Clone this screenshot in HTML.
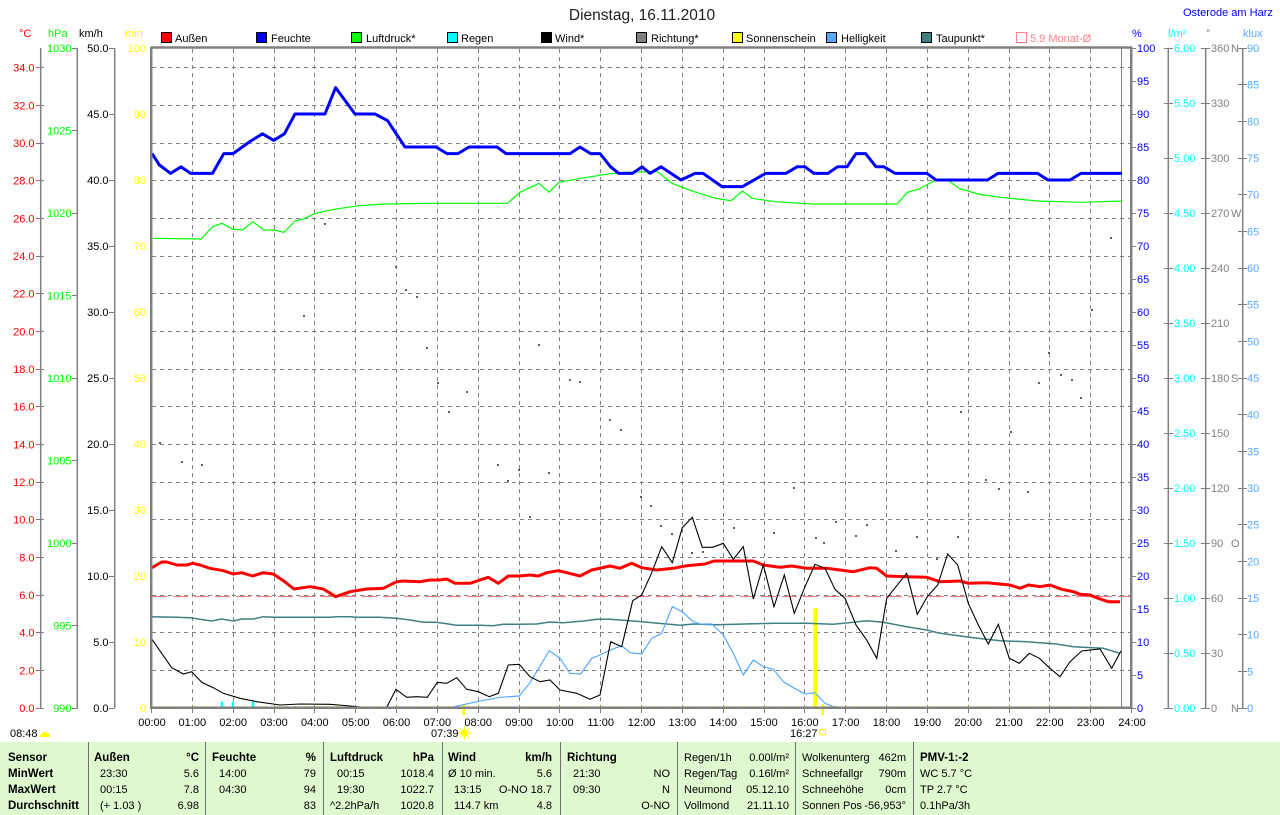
<!DOCTYPE html>
<html><head><meta charset="utf-8"><style>
html,body{margin:0;padding:0;background:#fff;}
svg{display:block;font-family:"Liberation Sans",Arial,sans-serif;}
</style></head><body>
<svg width="1280" height="815" viewBox="0 0 1280 815" xmlns="http://www.w3.org/2000/svg">
<rect x="0" y="0" width="1280" height="815" fill="#fff"/>

<!-- Title -->
<text x="642" y="20" font-size="15.5" text-anchor="middle" fill="#202020">Dienstag, 16.11.2010</text>
<text x="1183" y="16" font-size="11" fill="#0000ff">Osterode am Harz</text>

<!-- axis header labels -->
<g font-size="11">
<text x="19" y="37" fill="#ff0000">°C</text>
<text x="48" y="37" fill="#00ff00">hPa</text>
<text x="79" y="37" fill="#000">km/h</text>
<text x="125" y="37" fill="#ffff00">min</text>
<text x="1132" y="37" fill="#0000ff">%</text>
<text x="1168" y="37" fill="#00ffff">l/m²</text>
<text x="1206" y="37" fill="#808080">°</text>
<text x="1243" y="37" fill="#55aaff">klux</text>
</g>

<!-- Legend -->
<g font-size="11" fill="#000">
<rect x="161.5" y="32.5" width="10" height="10" fill="#ff0000" stroke="#000"/><text x="175" y="42">Außen</text>
<rect x="256.5" y="32.5" width="10" height="10" fill="#0000ff" stroke="#000"/><text x="271" y="42">Feuchte</text>
<rect x="351.5" y="32.5" width="10" height="10" fill="#00ff00" stroke="#000"/><text x="366" y="42">Luftdruck*</text>
<rect x="447.5" y="32.5" width="10" height="10" fill="#00ffff" stroke="#000"/><text x="461" y="42">Regen</text>
<rect x="541.5" y="32.5" width="10" height="10" fill="#000" stroke="#000"/><text x="555" y="42">Wind*</text>
<rect x="636.5" y="32.5" width="10" height="10" fill="#808080" stroke="#000"/><text x="651" y="42">Richtung*</text>
<rect x="732.5" y="32.5" width="10" height="10" fill="#ffff00" stroke="#000"/><text x="746" y="42">Sonnenschein</text>
<rect x="826.5" y="32.5" width="10" height="10" fill="#55aaff" stroke="#000"/><text x="841" y="42">Helligkeit</text>
<rect x="921.5" y="32.5" width="10" height="10" fill="#408080" stroke="#000"/><text x="936" y="42">Taupunkt*</text>
<rect x="1016.5" y="32.5" width="10" height="10" fill="none" stroke="#ff8080"/><text x="1030" y="42" fill="#ff8080">5.9 Monat-Ø</text>
</g>

<!-- Grid -->
<g stroke="#808080" stroke-width="1" stroke-dasharray="4,4" shape-rendering="crispEdges" fill="none">
<path d="M192.5 49V707M233.5 49V707M274.5 49V707M314.5 49V707M355.5 49V707M396.5 49V707M437.5 49V707M478.5 49V707M519.5 49V707M559.5 49V707M600.5 49V707M641.5 49V707M682.5 49V707M723.5 49V707M764.5 49V707M804.5 49V707M845.5 49V707M886.5 49V707M927.5 49V707M968.5 49V707M1009.5 49V707M1049.5 49V707M1090.5 49V707"/>
<path d="M152 670.5H1130M152 632.5H1130M152 595.5H1130M152 557.5H1130M152 519.5H1130M152 482.5H1130M152 444.5H1130M152 406.5H1130M152 369.5H1130M152 331.5H1130M152 293.5H1130M152 256.5H1130M152 218.5H1130M152 180.5H1130M152 143.5H1130M152 105.5H1130M152 67.5H1130"/>
</g>
<line x1="1121.5" y1="48" x2="1121.5" y2="708" stroke="#808080" stroke-width="1" shape-rendering="crispEdges"/>

<!-- yellow baseline dots -->
<line x1="152" y1="706.5" x2="1121" y2="706.5" stroke="#ffff00" stroke-width="1" stroke-dasharray="2,8.2"/>

<!-- Month avg dashed -->
<line x1="152" y1="596.5" x2="1130" y2="596.5" stroke="#ff8080" stroke-width="1.3" stroke-dasharray="15,6"/>

<!-- Direction dots -->
<g fill="#606060">
<rect x="159" y="442" width="2" height="2"/><rect x="181" y="461" width="2" height="2"/><rect x="201" y="464" width="2" height="2"/>
<rect x="303" y="315" width="2" height="2"/><rect x="324" y="223" width="2" height="2"/><rect x="395" y="266" width="2" height="2"/>
<rect x="405" y="289" width="2" height="2"/><rect x="416" y="296" width="2" height="2"/><rect x="426" y="347" width="2" height="2"/>
<rect x="437" y="382" width="2" height="2"/><rect x="448" y="411" width="2" height="2"/><rect x="466" y="391" width="2" height="2"/>
<rect x="497" y="464" width="2" height="2"/><rect x="507" y="480" width="2" height="2"/><rect x="518" y="469" width="2" height="2"/>
<rect x="529" y="516" width="2" height="2"/><rect x="538" y="344" width="2" height="2"/><rect x="548" y="472" width="2" height="2"/>
<rect x="569" y="379" width="2" height="2"/><rect x="579" y="381" width="2" height="2"/><rect x="609" y="419" width="2" height="2"/>
<rect x="620" y="429" width="2" height="2"/><rect x="640" y="496" width="2" height="2"/><rect x="650" y="505" width="2" height="2"/>
<rect x="660" y="525" width="2" height="2"/><rect x="671" y="533" width="2" height="2"/><rect x="691" y="552" width="2" height="2"/>
<rect x="702" y="551" width="2" height="2"/><rect x="733" y="527" width="2" height="2"/><rect x="773" y="532" width="2" height="2"/>
<rect x="793" y="487" width="2" height="2"/><rect x="815" y="537" width="2" height="2"/><rect x="823" y="542" width="2" height="2"/>
<rect x="835" y="521" width="2" height="2"/><rect x="855" y="535" width="2" height="2"/><rect x="866" y="524" width="2" height="2"/>
<rect x="895" y="550" width="2" height="2"/><rect x="916" y="536" width="2" height="2"/><rect x="936" y="558" width="2" height="2"/>
<rect x="957" y="536" width="2" height="2"/><rect x="960" y="411" width="2" height="2"/><rect x="985" y="479" width="2" height="2"/>
<rect x="998" y="488" width="2" height="2"/><rect x="1010" y="431" width="2" height="2"/><rect x="1027" y="491" width="2" height="2"/>
<rect x="1038" y="382" width="2" height="2"/><rect x="1048" y="352" width="2" height="2"/><rect x="1060" y="374" width="2" height="2"/>
<rect x="1071" y="379" width="2" height="2"/><rect x="1080" y="397" width="2" height="2"/><rect x="1091" y="309" width="2" height="2"/>
<rect x="1110" y="237" width="2" height="2"/>
</g>

<!-- Sunshine / rain -->
<rect x="813.3" y="608.3" width="3.7" height="99.7" fill="#ffff00"/>
<rect x="220.7" y="701.7" width="2.4" height="6" fill="#00ffff"/>
<rect x="231.7" y="701.7" width="2.4" height="6" fill="#00ffff"/>
<rect x="251.7" y="701.7" width="2.4" height="6" fill="#00ffff"/>
<rect x="462.3" y="704" width="2.7" height="11" fill="#ffff00"/>
<rect x="821.7" y="704" width="2.3" height="11" fill="#ffff00"/>

<!-- Pressure -->
<polyline fill="none" stroke="#00ff00" stroke-width="1.2" points="153,238.3 201,239 212.5,226.7 222,223.3 232.5,229 242.5,230 253,221.7 264,230 274,230 284,232.3 295,221 303,219 315.6,213.3 334,209.3 359,205.7 384,204 434,203.3 507.5,203.3 520,192.3 539,183.3 549,192.3 559,182.3 581,178.3 606,174.3 625,172.3 650,171.7 657.5,171.7 672,183.3 694,191.7 715.6,198.3 731,200.7 742.5,191 752,198.3 775,201.7 812.5,204 897,204 907.5,192.3 919,189 936,180 947,179.3 959,188.3 978,194 1000,197.3 1037.5,201 1081,202.3 1122,201"/>

<!-- Humidity -->
<polyline fill="none" stroke="#0000ff" stroke-width="3" stroke-linejoin="round" points="152,153.6 159.4,165 170.6,173.4 181,166.8 190.6,173.4 212.5,173.4 223.8,153.6 233,153.6 250,141.5 262.5,133.8 273.8,140.4 284.4,133.8 295,114 325,114 335.6,87.6 355,114 375,114 387.5,120.6 405,147 436,147 447,153.6 458,153.6 469,147 497,147 506,153.6 570,153.6 580,147 590.6,153.6 600,153.6 610.6,166.8 618.8,173.4 632.5,173.4 642,166.8 650,173.4 661,166.8 681,180 695,173.4 703,173.4 722,186.6 742.5,186.6 765.6,173.4 786,173.4 797,166.8 805,166.8 814,173.4 828,173.4 837.5,166.8 847,166.8 856,153.6 865.6,153.6 876,166.8 884,166.8 895,173.4 927,173.4 936,180 987.5,180 998,173.4 1037.5,173.4 1048,180 1070,180 1081,173.4 1122,173.4"/>

<!-- Dew point -->
<polyline fill="none" stroke="#408080" stroke-width="1.5" points="152,616.7 176.7,617.3 190,617.7 211.7,621 221.7,619 233.3,621 241.7,619 253.3,619 263.3,616.7 273.3,617.3 330,617.3 336.7,616.7 350,616.7 356.7,617.3 380,617.3 396.7,618.3 410,620 423.3,622.3 436.7,622.3 456.7,625.3 480,625.3 493.3,625.7 503.3,624.3 520,624.3 536.7,624 550,622 563.3,622.7 583.3,621 596.7,619.3 610,619.3 630,620.7 641.7,621.7 666.7,624 680,625.3 693.3,624 716.7,624.7 773.3,623.3 806.7,623.3 833.3,624.3 853.3,622.3 866.7,620.7 883.3,622.3 906.7,626.7 926.7,630 940,633.3 953.3,635 973.3,637.7 1000,640.7 1026.7,641.7 1056.7,644 1073.3,646.7 1103.3,648.3 1120,653.3"/>

<!-- Brightness -->
<polyline fill="none" stroke="#55aaff" stroke-width="1.2" points="451.7,707.3 476.7,701.7 500,697.3 519.3,696 530,682.7 549.3,650.7 560,658.3 570,673.3 580.7,674 591.7,658.3 600,655 610,650 621.7,645.7 630,652.7 641.7,654 651.7,638.3 661.7,633.3 672.3,606.7 682.3,611.7 692.3,621 700,624 711.7,624 723.3,635 733.3,653.3 743.3,675 753.3,660 763.3,666.7 773.3,669.3 783.3,681.7 793.3,687.7 805,694 815,692.7 825,703.3 833.3,706.7 841.7,707.3"/>

<!-- Temperature -->
<polyline fill="none" stroke="#ff0000" stroke-width="3" stroke-linejoin="round" points="152,567.7 161.7,562 166.7,562 176.7,565 186.7,565 192.7,563.3 200,565 210,568.3 223.3,570.7 233.3,574 241.7,572.7 252.7,576 263.3,572.7 273.3,574 283.3,580.7 294,589 310,586.7 323.3,589 335.7,596.7 350,591.7 366.7,589 383.3,588.3 396.7,581.7 403.3,581 420,581.7 430,580 440,580 446.7,579 455,583.3 470,583.3 488.3,577.3 498.3,583.3 508.3,576 520,576 530,575 538.3,576 546.7,572.7 558.3,570.7 566.7,572.7 580,576 591.7,570 610,566 620,568.3 631.7,563.3 641.7,567.7 656.7,570 673.3,568.3 686.7,565.7 705,564 714,561 753.3,561 763.3,565 780,567.3 791.7,566 806.7,568.3 826.7,568.3 840,570 853.3,571.7 870,567.7 876.7,568.3 886.7,576 906.7,576.7 926.7,577.3 940,581.7 960,581 968.3,583.3 986.7,582.7 1010,585 1020,588.3 1028.3,585 1040,586.7 1050,585 1061.7,589.3 1073.3,591.7 1080,594.3 1090,595 1098.3,598.3 1108.3,601.7 1120,601.7"/>

<!-- Wind -->
<polyline fill="none" stroke="#000" stroke-width="1.1" points="152,639.3 161.7,653.3 171.7,667.7 183.3,674 191.7,671.7 201.7,682.3 213.3,687.7 223.3,693.3 240,698.3 256.7,701.7 280,705 300,704 330,704.3 350,706 363.3,707.3 386.7,707.3 396,689.3 406.7,697.3 416.7,696.7 427.3,697.3 437.3,682.3 446.7,683.3 456.7,677.7 466.7,689.3 478.3,691.7 489.3,696.7 498.3,693.3 508.3,665 519.3,664.3 530,676.7 540,681.7 550,680 560,690 576.7,693.3 590,699.3 600,695 610.7,641.7 621.7,646.7 632.7,600.7 641.7,595 651.7,572.7 661.7,546.7 672.3,562.7 682.3,527.7 692.3,517.3 702.3,547.3 712.7,547.3 723.3,543.3 733.3,559.3 743.3,546.7 753.3,599 763.3,565 774,606.7 784.3,575 794.3,613.3 805,586.7 815,564.3 825,568.3 835,589.3 845,598.3 856,625 866.7,640 876.7,658.3 886.7,598.3 906.7,573.3 917.3,614.3 927.3,596.7 937.7,585 947.7,554 957.7,565 968.3,603.3 978.3,625 988.3,644 998.3,624.3 1009.3,658.3 1019.3,663.3 1029.3,653.3 1039.3,658.3 1050,668.3 1060,676.7 1070,661.7 1081.7,651 1100,649 1111.7,668.3 1121,651"/>

<!-- Frame -->
<g stroke="#808080" stroke-width="2.5" fill="none">
<line x1="151" y1="47.5" x2="1132" y2="47.5"/>
<line x1="151" y1="707.7" x2="1132" y2="707.7"/>
<line x1="151.2" y1="47" x2="151.2" y2="709"/>
<line x1="1131.2" y1="47" x2="1131.2" y2="709"/>
</g>

<!-- x ticks -->
<path stroke="#808080" stroke-width="1" shape-rendering="crispEdges" d="M151.5 708V713M192.5 708V713M233.5 708V713M274.5 708V713M314.5 708V713M355.5 708V713M396.5 708V713M437.5 708V713M478.5 708V713M519.5 708V713M559.5 708V713M600.5 708V713M641.5 708V713M682.5 708V713M723.5 708V713M764.5 708V713M804.5 708V713M845.5 708V713M886.5 708V713M927.5 708V713M968.5 708V713M1009.5 708V713M1049.5 708V713M1090.5 708V713M1131.5 708V713"/>

<!-- x labels -->
<g font-size="11" fill="#000" text-anchor="middle">
<text x="152" y="726">00:00</text><text x="192.3" y="726">01:00</text><text x="233.2" y="726">02:00</text><text x="274" y="726">03:00</text>
<text x="314.8" y="726">04:00</text><text x="355.7" y="726">05:00</text><text x="396.5" y="726">06:00</text><text x="437.3" y="726">07:00</text>
<text x="478.2" y="726">08:00</text><text x="519" y="726">09:00</text><text x="559.8" y="726">10:00</text><text x="600.7" y="726">11:00</text>
<text x="641.5" y="726">12:00</text><text x="682.3" y="726">13:00</text><text x="723.2" y="726">14:00</text><text x="764" y="726">15:00</text>
<text x="804.8" y="726">16:00</text><text x="845.7" y="726">17:00</text><text x="886.5" y="726">18:00</text><text x="927.3" y="726">19:00</text>
<text x="968.2" y="726">20:00</text><text x="1009" y="726">21:00</text><text x="1049.8" y="726">22:00</text><text x="1090.7" y="726">23:00</text>
<text x="1132" y="726">24:00</text>
</g>
<g font-size="11" fill="#000">
<text x="10" y="737">08:48</text>
<text x="431" y="737">07:39</text>
<text x="790" y="737">16:27</text>
</g>
<path d="M40 737 A5 5 0 0 1 50 737 Z" fill="#ffff00"/>
<circle cx="464.5" cy="733" r="3.5" fill="#ffff00"/>
<g stroke="#ffff00" stroke-width="1"><path d="M464.5 726.5V739.5M458 733H471M459.8 728.3L469.2 737.7M469.2 728.3L459.8 737.7"/></g>
<rect x="820" y="729.5" width="5.5" height="5.5" fill="none" stroke="#ffff00" stroke-width="1"/>

<!-- Left axes -->
<g stroke="#808080" stroke-width="1.5" fill="none">
<line x1="40.7" y1="48" x2="40.7" y2="708"/>
<line x1="77.3" y1="48" x2="77.3" y2="708"/>
<line x1="114.7" y1="48" x2="114.7" y2="708"/>
<line x1="1168.3" y1="48" x2="1168.3" y2="708"/>
<line x1="1205.7" y1="48" x2="1205.7" y2="708"/>
<line x1="1242.7" y1="48" x2="1242.7" y2="708"/>
</g>
<g stroke="#808080" stroke-width="1" shape-rendering="crispEdges">
<path d="M36 708.5H44M36 670.5H44M36 632.5H44M36 595.5H44M36 557.5H44M36 519.5H44M36 482.5H44M36 444.5H44M36 406.5H44M36 369.5H44M36 331.5H44M36 293.5H44M36 256.5H44M36 218.5H44M36 180.5H44M36 143.5H44M36 105.5H44M36 67.5H44"/>
<path d="M72 708.5H78M72 625.5H78M72 543.5H78M72 460.5H78M72 378.5H78M72 295.5H78M72 213.5H78M72 130.5H78M72 48.5H78"/>
<path d="M109 708.5H115M109 642.5H115M109 576.5H115M109 510.5H115M109 444.5H115M109 378.5H115M109 312.5H115M109 246.5H115M109 180.5H115M109 114.5H115M109 48.5H115"/>
<path d="M1131 708.5H1136M1131 675.5H1136M1131 642.5H1136M1131 609.5H1136M1131 576.5H1136M1131 543.5H1136M1131 510.5H1136M1131 477.5H1136M1131 444.5H1136M1131 411.5H1136M1131 378.5H1136M1131 345.5H1136M1131 312.5H1136M1131 279.5H1136M1131 246.5H1136M1131 213.5H1136M1131 180.5H1136M1131 147.5H1136M1131 114.5H1136M1131 81.5H1136M1131 48.5H1136"/>
<path d="M1164 708.5H1173M1164 653.5H1173M1164 598.5H1173M1164 543.5H1173M1164 488.5H1173M1164 433.5H1173M1164 378.5H1173M1164 323.5H1173M1164 268.5H1173M1164 213.5H1173M1164 158.5H1173M1164 103.5H1173M1164 48.5H1173"/>
<path d="M1201 708.5H1210M1201 653.5H1210M1201 598.5H1210M1201 543.5H1210M1201 488.5H1210M1201 433.5H1210M1201 378.5H1210M1201 323.5H1210M1201 268.5H1210M1201 213.5H1210M1201 158.5H1210M1201 103.5H1210M1201 48.5H1210"/>
<path d="M1238 708.5H1247M1238 671.5H1247M1238 634.5H1247M1238 598.5H1247M1238 561.5H1247M1238 524.5H1247M1238 488.5H1247M1238 451.5H1247M1238 414.5H1247M1238 378.5H1247M1238 341.5H1247M1238 304.5H1247M1238 268.5H1247M1238 231.5H1247M1238 194.5H1247M1238 158.5H1247M1238 121.5H1247M1238 84.5H1247M1238 48.5H1247"/>
</g>

<g font-size="11" text-anchor="end" fill="#ff0000">
<text x="34.5" y="712">0.0</text><text x="34.5" y="674.3">2.0</text><text x="34.5" y="636.7">4.0</text><text x="34.5" y="599">6.0</text>
<text x="34.5" y="561.3">8.0</text><text x="34.5" y="523.7">10.0</text><text x="34.5" y="486">12.0</text><text x="34.5" y="448.3">14.0</text>
<text x="34.5" y="410.6">16.0</text><text x="34.5" y="373">18.0</text><text x="34.5" y="335.3">20.0</text><text x="34.5" y="297.6">22.0</text>
<text x="34.5" y="260">24.0</text><text x="34.5" y="222.3">26.0</text><text x="34.5" y="184.6">28.0</text><text x="34.5" y="147">30.0</text>
<text x="34.5" y="109.3">32.0</text><text x="34.5" y="71.6">34.0</text>
</g>
<g font-size="11" text-anchor="end" fill="#00ff00">
<text x="71.5" y="712">990</text><text x="71.5" y="629.5">995</text><text x="71.5" y="547">1000</text><text x="71.5" y="464.5">1005</text>
<text x="71.5" y="382">1010</text><text x="71.5" y="299.5">1015</text><text x="71.5" y="217">1020</text><text x="71.5" y="134.5">1025</text>
<text x="71.5" y="52">1030</text>
</g>
<g font-size="11" text-anchor="end" fill="#000">
<text x="108.5" y="712">0.0</text><text x="108.5" y="646">5.0</text><text x="108.5" y="580">10.0</text><text x="108.5" y="514">15.0</text>
<text x="108.5" y="448">20.0</text><text x="108.5" y="382">25.0</text><text x="108.5" y="316">30.0</text><text x="108.5" y="250">35.0</text>
<text x="108.5" y="184">40.0</text><text x="108.5" y="118">45.0</text><text x="108.5" y="52">50.0</text>
</g>
<g font-size="11" text-anchor="end" fill="#ffff00">
<text x="146" y="712">0</text><text x="146" y="646">10</text><text x="146" y="580">20</text><text x="146" y="514">30</text>
<text x="146" y="448">40</text><text x="146" y="382">50</text><text x="146" y="316">60</text><text x="146" y="250">70</text>
<text x="146" y="184">80</text><text x="146" y="118">90</text><text x="146" y="52">100</text>
</g>

<!-- Right axes labels -->
<g font-size="11" fill="#0000ff">
<text x="1137" y="712">0</text><text x="1137" y="679">5</text><text x="1137" y="646">10</text><text x="1137" y="613">15</text>
<text x="1137" y="580">20</text><text x="1137" y="547">25</text><text x="1137" y="514">30</text><text x="1137" y="481">35</text>
<text x="1137" y="448">40</text><text x="1137" y="415">45</text><text x="1137" y="382">50</text><text x="1137" y="349">55</text>
<text x="1137" y="316">60</text><text x="1137" y="283">65</text><text x="1137" y="250">70</text><text x="1137" y="217">75</text>
<text x="1137" y="184">80</text><text x="1137" y="151">85</text><text x="1137" y="118">90</text><text x="1137" y="85">95</text>
<text x="1137" y="52">100</text>
</g>
<g font-size="11" fill="#00ffff">
<text x="1174" y="712">0.00</text><text x="1174" y="657">0.50</text><text x="1174" y="602">1.00</text><text x="1174" y="547">1.50</text>
<text x="1174" y="492">2.00</text><text x="1174" y="437">2.50</text><text x="1174" y="382">3.00</text><text x="1174" y="327">3.50</text>
<text x="1174" y="272">4.00</text><text x="1174" y="217">4.50</text><text x="1174" y="162">5.00</text><text x="1174" y="107">5.50</text>
<text x="1174" y="52">6.00</text>
</g>
<g font-size="11" fill="#808080">
<text x="1211" y="712">0</text><text x="1231" y="712">N</text>
<text x="1211" y="657">30</text><text x="1211" y="602">60</text>
<text x="1211" y="547">90</text><text x="1231" y="547">O</text>
<text x="1211" y="492">120</text><text x="1211" y="437">150</text>
<text x="1211" y="382">180</text><text x="1231" y="382">S</text>
<text x="1211" y="327">210</text><text x="1211" y="272">240</text>
<text x="1211" y="217">270</text><text x="1231" y="217">W</text>
<text x="1211" y="162">300</text><text x="1211" y="107">330</text>
<text x="1211" y="52">360</text><text x="1231" y="52">N</text>
</g>
<g font-size="11" fill="#55aaff">
<text x="1247" y="712">0</text><text x="1247" y="675.3">5</text><text x="1247" y="638.7">10</text><text x="1247" y="602">15</text>
<text x="1247" y="565.3">20</text><text x="1247" y="528.7">25</text><text x="1247" y="492">30</text><text x="1247" y="455.3">35</text>
<text x="1247" y="418.7">40</text><text x="1247" y="382">45</text><text x="1247" y="345.3">50</text><text x="1247" y="308.7">55</text>
<text x="1247" y="272">60</text><text x="1247" y="235.3">65</text><text x="1247" y="198.7">70</text><text x="1247" y="162">75</text>
<text x="1247" y="125.3">80</text><text x="1247" y="88.7">85</text><text x="1247" y="52">90</text>
</g>

<!-- Table -->
<rect x="0" y="742" width="1280" height="73" fill="#e0f8d0"/>
<g stroke="#707070" stroke-width="1" shape-rendering="crispEdges">
<path d="M88.5 742V815M205.5 742V815M323.5 742V815M442.5 742V815M560.5 742V815M677.5 742V815M795.5 742V815M913.5 742V815"/>
</g>
<g font-size="11" fill="#000">
<g font-weight="bold" font-size="11.5">
<text x="8" y="761">Sensor</text><text x="8" y="777">MinWert</text><text x="8" y="793">MaxWert</text><text x="8" y="809">Durchschnitt</text>
<text x="94" y="761">Außen</text><text x="199" y="761" text-anchor="end">°C</text>
<text x="212" y="761">Feuchte</text><text x="316" y="761" text-anchor="end">%</text>
<text x="330" y="761">Luftdruck</text><text x="434" y="761" text-anchor="end">hPa</text>
<text x="448" y="761">Wind</text><text x="552" y="761" text-anchor="end">km/h</text>
<text x="567" y="761">Richtung</text>
<text x="920" y="761">PMV-1:-2</text>
</g>
<text x="100" y="777">23:30</text><text x="199" y="777" text-anchor="end">5.6</text>
<text x="100" y="793">00:15</text><text x="199" y="793" text-anchor="end">7.8</text>
<text x="100" y="809">(+ 1.03 )</text><text x="199" y="809" text-anchor="end">6.98</text>
<text x="219" y="777">14:00</text><text x="316" y="777" text-anchor="end">79</text>
<text x="219" y="793">04:30</text><text x="316" y="793" text-anchor="end">94</text>
<text x="316" y="809" text-anchor="end">83</text>
<text x="337" y="777">00:15</text><text x="434" y="777" text-anchor="end">1018.4</text>
<text x="337" y="793">19:30</text><text x="434" y="793" text-anchor="end">1022.7</text>
<text x="330" y="809">^2.2hPa/h</text><text x="434" y="809" text-anchor="end">1020.8</text>
<text x="448" y="777">Ø 10 min.</text><text x="552" y="777" text-anchor="end">5.6</text>
<text x="454" y="793">13:15</text><text x="552" y="793" text-anchor="end">O-NO 18.7</text>
<text x="454" y="809">114.7 km</text><text x="552" y="809" text-anchor="end">4.8</text>
<text x="573" y="777">21:30</text><text x="670" y="777" text-anchor="end">NO</text>
<text x="573" y="793">09:30</text><text x="670" y="793" text-anchor="end">N</text>
<text x="670" y="809" text-anchor="end">O-NO</text>
<text x="684" y="761">Regen/1h</text><text x="789" y="761" text-anchor="end">0.00l/m²</text>
<text x="684" y="777">Regen/Tag</text><text x="789" y="777" text-anchor="end">0.16l/m²</text>
<text x="684" y="793">Neumond</text><text x="789" y="793" text-anchor="end">05.12.10</text>
<text x="684" y="809">Vollmond</text><text x="789" y="809" text-anchor="end">21.11.10</text>
<text x="802" y="761">Wolkenunterg</text><text x="906" y="761" text-anchor="end">462m</text>
<text x="802" y="777">Schneefallgr</text><text x="906" y="777" text-anchor="end">790m</text>
<text x="802" y="793">Schneehöhe</text><text x="906" y="793" text-anchor="end">0cm</text>
<text x="802" y="809">Sonnen Pos</text><text x="906" y="809" text-anchor="end">-56,953°</text>
<text x="920" y="777">WC 5.7 °C</text>
<text x="920" y="793">TP 2.7 °C</text>
<text x="920" y="809">0.1hPa/3h</text>
</g>
</svg>
</body></html>
